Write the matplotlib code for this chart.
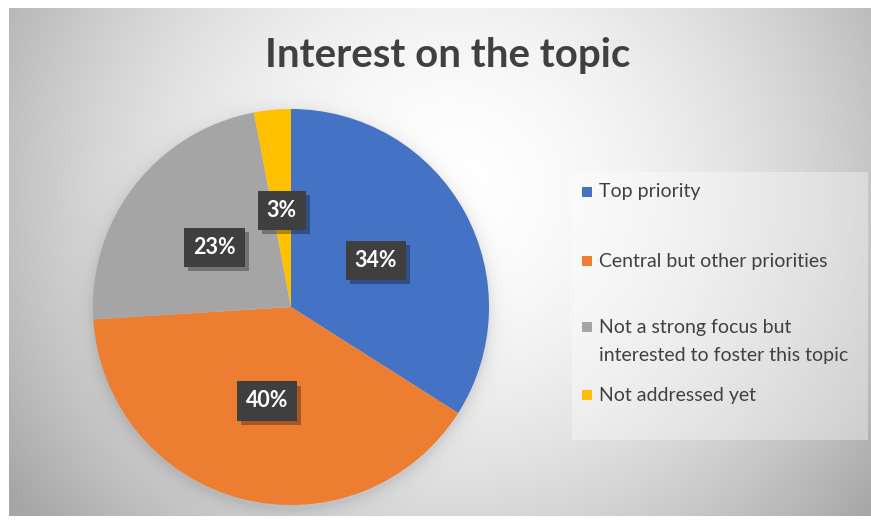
import numpy as np
import matplotlib.pyplot as plt
from matplotlib.patches import Rectangle
import matplotlib.patheffects as pe

plt.rcParams['font.family'] = ['Lato', 'DejaVu Sans']

title = 'Interest on the topic'
categories = ['Top priority',
              'Central but other priorities',
              'Not a strong focus but\ninterested to foster this topic',
              'Not addressed yet']
shares = [34, 40, 23, 3]
colors = ['#4472C4', '#ED7D31', '#A5A5A5', '#FFC000']

W, H = 871, 529
fig = plt.figure(figsize=(W / 100, H / 100), dpi=100)


def px_axes(x0, y0, w, h):
    # axes placed in pixel units, measured from the top-left corner
    return fig.add_axes([x0 / W, 1 - (y0 + h) / H, w / W, h / H])


# radial grey background with a soft shadow under the pie
cx, cy, R = 291, 307, 198
bg = px_axes(9, 8, W - 9, 508)
yy, xx = np.mgrid[8:516, 9:W] + 0.5
d = np.hypot(xx - 450, (yy - 190) * 1.05)
shade = 1 - 0.25 * np.clip(d / 450, 0, 1.2) ** 1.8
r = np.hypot(xx - cx, yy - (cy + 4))
shade *= 1 - 0.10 * np.exp(-np.clip(r - R, 0, None) / 7)
bg.imshow(np.dstack([shade] * 3), extent=(9, W, 516, 8), aspect='auto')
bg.axis('off')

ax = px_axes(cx - 200, cy - 200, 400, 400)
wedges, texts, autotexts = ax.pie(
    shares, colors=colors, startangle=90, counterclock=False,
    autopct=lambda p: f'{p:.0f}%', pctdistance=0.49,
    wedgeprops=dict(linewidth=0),
    textprops=dict(color='white', fontsize=15.5, fontweight='bold'))
ax.set_xlim(-200 / R, 200 / R)
ax.set_ylim(-200 / R, 200 / R)
ax.set_aspect('equal')
ax.axis('off')

for t in autotexts:
    t.set_bbox(dict(boxstyle='square,pad=0.42', fc='#3f3f3f', ec='none'))
    t.get_bbox_patch().set_path_effects([
        pe.SimplePatchShadow(offset=(3, -3), shadow_rgbFace='black', alpha=0.3),
        pe.Normal()])

# overlay in pixel coordinates for the title and the legend
ov = px_axes(0, 0, W, H)
ov.set_xlim(0, W)
ov.set_ylim(H, 0)
ov.axis('off')

ov.text(448, 56, title, ha='center', va='center', fontsize=29,
        fontweight='bold', color='#404040')

ov.add_patch(Rectangle((572, 172), 296, 268, fc='white', alpha=0.35, ec='none'))
entry_y = [192, 261, 327, 395]
for lab, col, y in zip(categories, colors, entry_y):
    ov.add_patch(Rectangle((582, y - 5), 10, 10, fc=col, ec='none'))
    for j, line in enumerate(lab.split('\n')):
        ov.text(599, y + j * 28, line, ha='left', va='center',
                fontsize=14, color='#404040')

fig.savefig('out.png', dpi=100)
